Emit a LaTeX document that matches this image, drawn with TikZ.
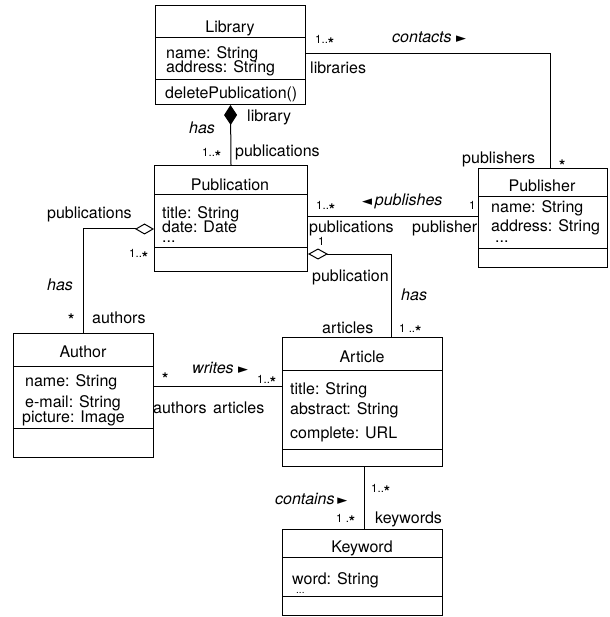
\documentclass[tikz,border=0pt]{standalone}
\usepackage{fontspec}
\setmainfont{TeX Gyre Heros}
\newfontfamily\symfont{DejaVu Sans}
\usetikzlibrary{arrows.meta}
\newcommand\mst{\raisebox{-5.3pt}{\fontsize{16}{16}\selectfont\bfseries *}}
\newcommand\rtri{{\symfont\fontsize{13}{13}\selectfont\upshape ►}}
\newcommand\ltri{{\symfont\fontsize{13}{13}\selectfont\upshape ◄}}
\begin{document}
\begin{tikzpicture}[x=1pt,y=-1pt,
  cls/.style={draw, line width=1pt, inner sep=0pt, anchor=north west},
  txt/.style={font=\fontsize{16}{16}\selectfont, inner sep=0pt, anchor=base west},
  ttl/.style={txt, anchor=base},
  mul/.style={font=\fontsize{11.5}{11.5}\selectfont, inner sep=0pt, anchor=base west},
  asc/.style={font=\fontsize{16}{16}\selectfont\itshape, inner sep=0pt, anchor=base west},
  wire/.style={line width=1pt},
  sep/.style={line width=1pt}]
\useasboundingbox (0,0) rectangle (609,617);

% ---------- classes ----------
\node[cls, minimum width=150pt, minimum height=99pt] (lib) at (155,5) {};
\node[cls, minimum width=153pt, minimum height=106pt] (pub) at (154,165) {};
\node[cls, minimum width=129pt, minimum height=99pt] (pbr) at (478,168) {};
\node[cls, minimum width=140pt, minimum height=124pt] (aut) at (13,333) {};
\node[cls, minimum width=160pt, minimum height=129pt] (art) at (282,337) {};
\node[cls, minimum width=160pt, minimum height=86pt] (kw) at (282,529) {};

% separators
\coordinate (ly1) at (0,38);  \coordinate (ly2) at (0,80);
\coordinate (py1) at (0,195); \coordinate (py2) at (0,247);
\coordinate (ry1) at (0,197); \coordinate (ry2) at (0,248);
\coordinate (ay1) at (0,366); \coordinate (ay2) at (0,428);
\coordinate (ty1) at (0,370); \coordinate (ty2) at (0,449);
\coordinate (ky1) at (0,557); \coordinate (ky2) at (0,596);
\draw[sep] (lib.west |- ly1) -- (lib.east |- ly1);
\draw[sep] (lib.west |- ly2) -- (lib.east |- ly2);
\draw[sep] (pub.west |- py1) -- (pub.east |- py1);
\draw[sep] (pub.west |- py2) -- (pub.east |- py2);
\draw[sep] (pbr.west |- ry1) -- (pbr.east |- ry1);
\draw[sep] (pbr.west |- ry2) -- (pbr.east |- ry2);
\draw[sep] (aut.west |- ay1) -- (aut.east |- ay1);
\draw[sep] (aut.west |- ay2) -- (aut.east |- ay2);
\draw[sep] (art.west |- ty1) -- (art.east |- ty1);
\draw[sep] (art.west |- ty2) -- (art.east |- ty2);
\draw[sep] (kw.west |- ky1) -- (kw.east |- ky1);
\draw[sep] (kw.west |- ky2) -- (kw.east |- ky2);

% class texts
\node[ttl] (libn) at (230,33) {Library};
\node[txt] (liba1) at (166,59) {name: String};
\node[txt] (liba2) at (166,73) {address: String};
\node[txt] (libo1) at (165,99) {deletePublication()};

\node[ttl] (pubn) at (230,191) {Publication};
\node[txt] (puba1) at (162,219) {title: String};
\node[txt] (puba2) at (162,233) {date: Date};
\node[txt] (puba3) at (162,243) {...};

\node[ttl] (pbrn) at (542,192) {Publisher};
\node[txt] (pbra1) at (491,213) {name: String};
\node[txt] (pbra2) at (491,232) {address: String};
\node[txt] (pbra3) at (495,242) {...};

\node[ttl] (autn) at (83,357) {Author};
\node[txt] (auta1) at (25,386) {name: String};
\node[txt] (auta2) at (25,407) {e-mail: String};
\node[txt] (auta3) at (22,422) {picture: Image};

\node[ttl] (artn) at (362,362) {Article};
\node[txt] (arta1) at (290,394) {title: String};
\node[txt] (arta2) at (290,414) {abstract: String};
\node[txt] (arta3) at (290,438) {complete: URL};

\node[ttl] (kwn) at (362,552) {Keyword};
\node[txt] (kwa1) at (292,584) {word: String};
\node[txt, font=\fontsize{10}{10}\selectfont] (kwa2) at (296,593) {...};

% ---------- connectors ----------
\draw[wire, {Diamond[length=20pt,width=13pt]}-] (lib.south) -- (pub.north);

\coordinate (c1) at (550,54);
\draw[wire] (lib.east |- c1) -- (c1) -- (c1 |- pbr.north);

\coordinate (c2) at (0,217);
\draw[wire] (pub.east |- c2) -- (pbr.west |- c2);

\coordinate (c3) at (0,229);
\draw[wire, {Diamond[open,length=19pt,width=11pt]}-] (pub.west |- c3) -| (aut.north);

\coordinate (c4) at (391,254);
\draw[wire, {Diamond[open,length=20pt,width=11pt]}-] (pub.east |- c4) -- (c4) -- (c4 |- art.north);

\coordinate (c5) at (0,386);
\draw[wire] (aut.east |- c5) -- (art.west |- c5);

\coordinate (c6) at (364,0);
\draw[wire] (art.south -| c6) -- (kw.north -| c6);

% ---------- association labels ----------
\node[mul] (m1) at (315,44) {1..\mst};
\node[asc] (a1) at (392,43) {contacts \rtri};
\node[txt] (r1) at (310,74) {libraries};
\node[txt] (r2) at (247,122) {library};
\node[asc] (a2) at (189,134) {has};
\node[mul] (m2) at (202,157) {1..\mst};
\node[txt] (r3) at (235,157) {publications};
\node[txt] (r4) at (462,164) {publishers};
\node[mul] (m3) at (559,166) {\mst};

\node[txt] (r5) at (47,219) {publications};
\node[mul] (m4) at (129,258) {1..\mst};
\node[asc] (a3) at (47,290) {has};
\node[mul] (m5) at (68,320) {\mst};
\node[txt] (r6) at (92,323) {authors};

\node[mul] (m6) at (316,210) {1..\mst};
\node[asc] (a4) at (362,206) {\ltri\,publishes};
\node[mul] (m7) at (469,210) {1};
\node[txt] (r7) at (309,233) {publications};
\node[txt] (r8) at (412,233) {publisher};
\node[mul] (m8) at (318,245) {1};
\node[txt] (r9) at (312,281) {publication};
\node[asc] (a5) at (401,300) {has};
\node[txt] (r10) at (322,333) {articles};
\node[mul] (m9) at (399,332) {1 ..\mst};

\node[asc] (a6) at (192,373) {writes \rtri};
\node[mul] (m10) at (162,379) {\mst};
\node[mul] (m11) at (257,383) {1..\mst};
\node[txt] (r11) at (153,413) {authors};
\node[txt] (r12) at (213,413) {articles};

\node[asc] (a7) at (275,504) {contains\,\rtri};
\node[mul] (m12) at (371,492) {1..\mst};
\node[mul] (m13) at (336,522) {1 .\mst};
\node[txt] (r13) at (375,523) {keywords};
\end{tikzpicture}
\end{document}
